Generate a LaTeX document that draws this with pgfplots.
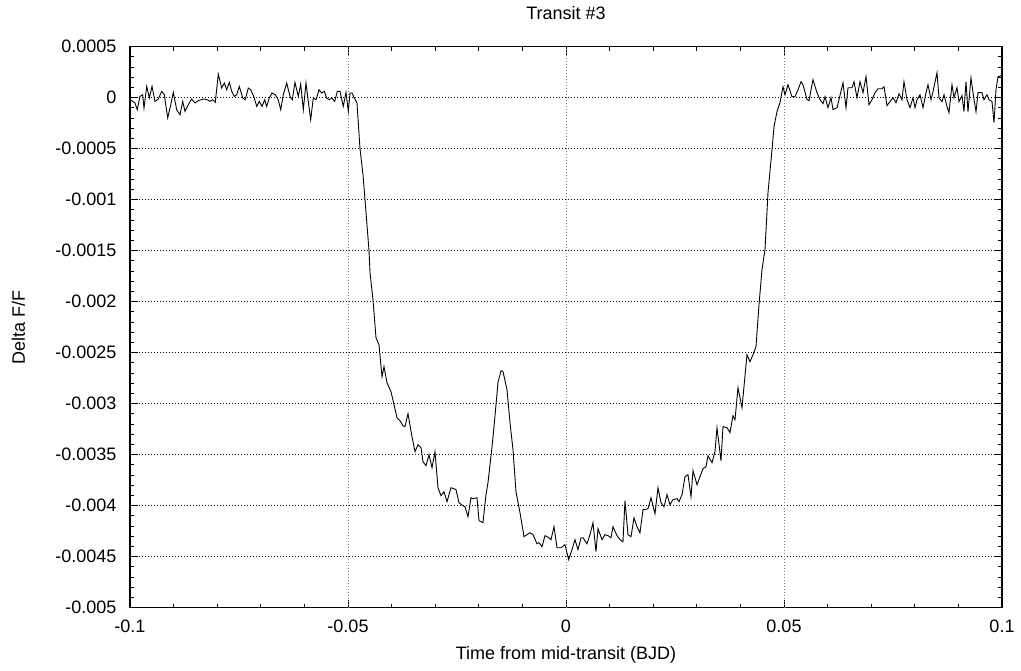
\documentclass[border=0pt]{standalone}
\usepackage{fontspec}
\setmainfont{Liberation Sans}
\usepackage{pgfplots}
\pgfplotsset{compat=1.18}
\begin{document}
\begin{tikzpicture}
\useasboundingbox (-130pt,-63.3pt) rectangle (891pt,607.7pt);
\begin{axis}[
  at={(0,0)}, anchor=south west,
  scale only axis, width=872pt, height=561pt,
  xmin=-0.1, xmax=0.1, ymin=-0.005, ymax=0.0005,
  scaled x ticks=false, scaled y ticks=false,
  xtick={-0.1,-0.05,0,0.05,0.1},
  xticklabels={-0.1,-0.05,0,0.05,0.1},
  ytick={0.0005,0,-0.0005,-0.001,-0.0015,-0.002,-0.0025,-0.003,-0.0035,-0.004,-0.0045,-0.005},
  yticklabels={0.0005,0,-0.0005,-0.001,-0.0015,-0.002,-0.0025,-0.003,-0.0035,-0.004,-0.0045,-0.005},
  minor x tick num=4, minor y tick num=4,
  tick pos=both, tick align=inside,
  major tick length=8pt, minor tick length=4pt,
  every tick/.style={black, line width=1pt},
  axis line style={line width=1.4pt},
  ymajorgrids,
  grid style={black, line width=0.8pt, dash pattern=on 1pt off 2pt},
  every tick label/.append style={font=\fontsize{18}{21}\selectfont},
  xticklabel style={anchor=base, inner sep=0pt, yshift=-24.8pt},
  yticklabel style={anchor=east, inner sep=0pt, xshift=-13.3pt},
  title={Transit \#3},
  title style={at={(0.5,1)}, anchor=base, yshift=20.7pt, font=\fontsize{18}{21}\selectfont},
  xlabel={Time from mid-transit (BJD)},
  xlabel style={at={(0.5,0)}, anchor=base, yshift=-52pt, font=\fontsize{18}{21}\selectfont},
  clip=true,
]
\draw[gray, line width=0.8pt, dash pattern=on 1pt off 2pt] (axis cs:-0.05,-0.005) -- (axis cs:-0.05,0.0005);
\draw[gray, line width=0.8pt, dash pattern=on 1pt off 2pt] (axis cs:0,-0.005) -- (axis cs:0,0.0005);
\draw[gray, line width=0.8pt, dash pattern=on 1pt off 2pt] (axis cs:0.05,-0.005) -- (axis cs:0.05,0.0005);
\addplot[black, line width=0.9pt, mark=none] coordinates {
(-0.0999,-0.000020) (-0.09885,-0.000052) (-0.09833,-0.000118) (-0.09771,0.000013)
(-0.09709,0.000029) (-0.09679,-0.000101) (-0.09617,0.000111) (-0.09557,-0.000003)
(-0.09495,0.000111) (-0.09427,-0.000036) (-0.09351,-0.000013) (-0.09273,0.000062)
(-0.09213,0.000029) (-0.09135,-0.000199) (-0.09066,-0.000069) (-0.09007,0.000052)
(-0.08929,-0.000118) (-0.08853,-0.000167) (-0.08791,-0.000036) (-0.08739,-0.000134)
(-0.08663,-0.000069) (-0.08585,-0.000013) (-0.08510,-0.000052) (-0.08433,-0.000029)
(-0.08319,-0.000013) (-0.08227,-0.000020) (-0.08165,-0.000036) (-0.08103,-0.000020)
(-0.08044,-0.000046) (-0.07975,0.000232) (-0.07897,0.000095) (-0.07837,0.000144)
(-0.07782,0.000078) (-0.07722,0.000150) (-0.07667,0.000062) (-0.07608,0.000013)
(-0.07553,0.000029) (-0.07493,0.000111) (-0.07415,-0.000003) (-0.07356,-0.000020)
(-0.07287,0.000095) (-0.07232,0.000078) (-0.07156,0.000007) (-0.07094,-0.000085)
(-0.07034,-0.000036) (-0.06972,-0.000085) (-0.06911,-0.000020) (-0.06865,-0.000085)
(-0.06805,-0.000003) (-0.06743,0.000046) (-0.06667,0.000029) (-0.06599,-0.000020)
(-0.06543,-0.000118) (-0.06484,0.000029) (-0.06406,0.000144) (-0.06330,0.000013)
(-0.06278,-0.000020) (-0.06216,0.000150) (-0.06140,0.000013) (-0.06085,0.000134)
(-0.06025,-0.000118) (-0.05963,0.000144) (-0.05911,-0.000036) (-0.05856,-0.000216)
(-0.05796,-0.000003) (-0.05734,-0.000020) (-0.05665,0.000078) (-0.05603,0.000046)
(-0.05544,0.000062) (-0.05489,-0.000003) (-0.05429,-0.000020) (-0.05367,-0.000003)
(-0.05305,-0.000036) (-0.05245,0.000062) (-0.05183,0.000062) (-0.05108,-0.000085)
(-0.05046,0.000052) (-0.04993,-0.000134) (-0.04954,0.000046) (-0.04908,0.000046)
(-0.04856,-0.000003) (-0.04794,-0.000049) (-0.04725,-0.000500) (-0.04656,-0.000755)
(-0.04610,-0.001000) (-0.04518,-0.001500) (-0.04495,-0.001716) (-0.04427,-0.001980)
(-0.04358,-0.002353) (-0.04289,-0.002422) (-0.04220,-0.002735) (-0.04174,-0.002637)
(-0.04106,-0.002794) (-0.04014,-0.002882) (-0.03876,-0.003137) (-0.03807,-0.003167)
(-0.03739,-0.003216) (-0.03693,-0.003225) (-0.03624,-0.003098) (-0.03532,-0.003324)
(-0.03463,-0.003471) (-0.03394,-0.003402) (-0.03326,-0.003431) (-0.03280,-0.003569)
(-0.03211,-0.003608) (-0.03142,-0.003500) (-0.03073,-0.003627) (-0.03005,-0.003471)
(-0.02936,-0.003824) (-0.02867,-0.003902) (-0.02798,-0.003863) (-0.02729,-0.003961)
(-0.02638,-0.003824) (-0.02569,-0.003833) (-0.02523,-0.003843) (-0.02454,-0.003971)
(-0.02362,-0.004000) (-0.02317,-0.004010) (-0.02248,-0.004108) (-0.02179,-0.003922)
(-0.02133,-0.003931) (-0.02041,-0.003922) (-0.01995,-0.004147) (-0.01904,-0.004167)
(-0.01835,-0.003892) (-0.01789,-0.003775) (-0.01697,-0.003422) (-0.01651,-0.003225)
(-0.01560,-0.002794) (-0.01491,-0.002676) (-0.01445,-0.002686) (-0.01353,-0.002863)
(-0.01284,-0.003186) (-0.01216,-0.003451) (-0.01147,-0.003863) (-0.01055,-0.004069)
(-0.00963,-0.004304) (-0.00894,-0.004284) (-0.00826,-0.004265) (-0.00757,-0.004284)
(-0.00665,-0.004373) (-0.00619,-0.004363) (-0.00550,-0.004402) (-0.00482,-0.004294)
(-0.00390,-0.004314) (-0.00344,-0.004333) (-0.00275,-0.004206) (-0.00206,-0.004412)
(-0.00115,-0.004412) (-0.00023,-0.004382) (0.00060,-0.004529) (0.00138,-0.004431)
(0.00206,-0.004333) (0.00275,-0.004431) (0.00344,-0.004314) (0.00390,-0.004314)
(0.00482,-0.004373) (0.00550,-0.004284) (0.00619,-0.004167) (0.00688,-0.004451)
(0.00734,-0.004225) (0.00826,-0.004333) (0.00894,-0.004284) (0.00963,-0.004294)
(0.01032,-0.004314) (0.01078,-0.004206) (0.01170,-0.004294) (0.01239,-0.004333)
(0.01307,-0.004353) (0.01353,-0.003951) (0.01422,-0.004284) (0.01491,-0.004304)
(0.01560,-0.004118) (0.01628,-0.004206) (0.01697,-0.004265) (0.01766,-0.004039)
(0.01812,-0.004039) (0.01881,-0.004029) (0.01950,-0.003922) (0.02041,-0.004078)
(0.02110,-0.003824) (0.02179,-0.003971) (0.02248,-0.004010) (0.02317,-0.003892)
(0.02385,-0.003990) (0.02454,-0.003941) (0.02546,-0.003931) (0.02592,-0.003961)
(0.02661,-0.003892) (0.02729,-0.003716) (0.02798,-0.003696) (0.02867,-0.003912)
(0.02913,-0.003657) (0.03005,-0.003794) (0.03073,-0.003716) (0.03142,-0.003637)
(0.03211,-0.003618) (0.03257,-0.003510) (0.03349,-0.003578) (0.03417,-0.003471)
(0.03463,-0.003235) (0.03555,-0.003559) (0.03601,-0.003225) (0.03693,-0.003235)
(0.03761,-0.003284) (0.03830,-0.003118) (0.03876,-0.003157) (0.03945,-0.002843)
(0.04037,-0.003039) (0.04151,-0.002520) (0.04220,-0.002588) (0.04289,-0.002520)
(0.04358,-0.002441) (0.04427,-0.002029) (0.04495,-0.001686) (0.04564,-0.001490)
(0.04633,-0.000931) (0.04725,-0.000510) (0.04771,-0.000284) (0.04839,-0.000137)
(0.04908,-0.000049) (0.04977,0.000108) (0.05023,0.000029) (0.05092,0.000127)
(0.05183,0.000010) (0.05252,0.000010) (0.05321,0.000078) (0.05390,0.000157)
(0.05436,0.000127) (0.05528,-0.000020) (0.05573,-0.000029) (0.05665,0.000176)
(0.05757,0.000049) (0.05826,-0.000020) (0.05894,-0.000059) (0.05940,0.000010)
(0.06009,-0.000098) (0.06078,0.000000) (0.06124,-0.000118) (0.06216,-0.000098)
(0.06261,-0.000020) (0.06353,0.000147) (0.06422,-0.000098) (0.06468,0.000098)
(0.06560,0.000098) (0.06606,0.000157) (0.06674,0.000000) (0.06743,0.000157)
(0.06812,0.000049) (0.06881,0.000206) (0.06950,-0.000069) (0.07018,-0.000020)
(0.07087,0.000049) (0.07156,0.000088) (0.07248,0.000088) (0.07294,0.000108)
(0.07362,-0.000078) (0.07431,-0.000039) (0.07500,0.000000) (0.07569,-0.000049)
(0.07638,0.000039) (0.07706,-0.000020) (0.07752,0.000157) (0.07821,-0.000020)
(0.07890,-0.000098) (0.07959,0.000000) (0.08005,-0.000098) (0.08050,-0.000020)
(0.08119,0.000029) (0.08188,-0.000098) (0.08257,0.000049) (0.08303,0.000127)
(0.08372,-0.000020) (0.08417,0.000059) (0.08509,0.000245) (0.08555,0.000000)
(0.08624,-0.000039) (0.08670,0.000029) (0.08739,-0.000088) (0.08784,-0.000147)
(0.08853,0.000127) (0.08899,0.000000) (0.08968,0.000098) (0.09014,-0.000039)
(0.09083,0.000020) (0.09128,-0.000137) (0.09174,0.000157) (0.09220,-0.000137)
(0.09289,0.000196) (0.09335,0.000049) (0.09404,-0.000137) (0.09450,0.000049)
(0.09541,0.000049) (0.09587,-0.000020) (0.09656,0.000029) (0.09702,-0.000020)
(0.09771,-0.000039) (0.09817,-0.000245) (0.09862,0.000078) (0.09908,0.000206)
(0.09977,0.000216)
};
\end{axis}
\node[rotate=90, anchor=base, font=\fontsize{18}{21}\selectfont] at (-105pt,280.5pt) {Delta F/F};
\end{tikzpicture}
\end{document}
